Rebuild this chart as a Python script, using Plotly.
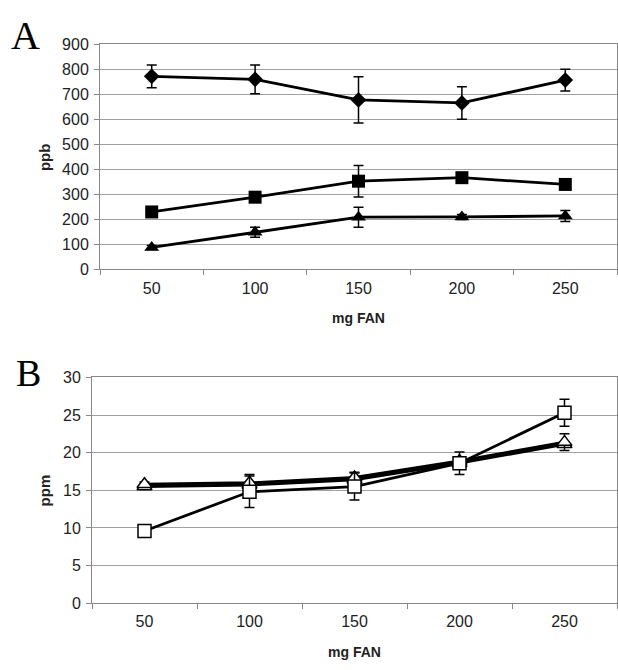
import plotly.graph_objects as go

W, H = 618, 670
categories = ["50", "100", "150", "200", "250"]

# Panel A (ppb)
a_diamond = [772, 760, 678, 666, 757]
a_diamond_err = [45, 57, 92, 65, 43]
a_square = [230, 289, 353, 367, 340]
a_square_err = [8, 10, 63, 10, 15]
a_triangle = [88, 149, 209, 210, 214]
a_triangle_err = [8, 20, 40, 10, 22]

# Panel B (ppm)
b_tri1 = [15.8, 16.0, 16.7, 18.9, 21.4]
b_tri1_err = [0.3, 1.1, 0.7, 0.3, 1.1]
b_tri2 = [15.5, 15.7, 16.4, 18.6, 21.1]
b_square = [9.6, 14.8, 15.5, 18.6, 25.3]
b_square_err = [0.3, 2.1, 1.8, 1.5, 1.8]

FONT = "Liberation Sans, Arial, sans-serif"
fig = go.Figure()

def add(x, y, err, sym, size, fill, xa, ya, lw=1.5):
    fig.add_trace(go.Scatter(
        x=x, y=y, mode="lines+markers", xaxis=xa, yaxis=ya,
        line=dict(color="black", width=2.8),
        marker=dict(symbol=sym, size=size, color=fill, line=dict(color="black", width=lw)),
        error_y=(dict(type="data", array=err, visible=True, color="black", thickness=1.5, width=5)
                 if err is not None else None),
        showlegend=False, cliponaxis=False,
    ))

add(categories, a_diamond, a_diamond_err, "diamond", 12, "black", "x", "y", 0)
add(categories, a_square, a_square_err, "square", 13, "black", "x", "y", 0)
add(categories, a_triangle, a_triangle_err, "triangle-up", 13, "black", "x", "y", 0)

add(categories, b_tri2, None, "triangle-up", 13, "white", "x2", "y2")
add(categories, b_tri1, b_tri1_err, "triangle-up", 13, "white", "x2", "y2")
add(categories, b_square, b_square_err, "square", 13, "white", "x2", "y2")

def py(px):
    return 1 - px / H

xa_common = dict(type="category", range=[-0.5, 4.5], tickson="boundaries", ticks="outside",
                 ticklen=5, tickcolor="#888", showline=True, linecolor="#888", mirror=True,
                 showgrid=False, tickfont=dict(family=FONT, size=16, color="#222"),
                 ticklabelstandoff=4, fixedrange=True)
ya_common = dict(ticks="outside", ticklen=5, tickcolor="#888", showline=True, linecolor="#888",
                 mirror=True, showgrid=True, gridcolor="#a0a0a0", gridwidth=1, zeroline=False,
                 tickfont=dict(family=FONT, size=16, color="#222"), ticklabelstandoff=2)

fig.update_layout(
    width=W, height=H, margin=dict(l=0, r=0, t=0, b=0),
    paper_bgcolor="white", plot_bgcolor="white",
    xaxis=dict(domain=[100 / W, 617 / W], anchor="y", **xa_common),
    yaxis=dict(domain=[py(268.3), py(37.3)], anchor="x", range=[0, 900], dtick=100, **ya_common),
    xaxis2=dict(domain=[92 / W, 617 / W], anchor="y2", **xa_common),
    yaxis2=dict(domain=[py(610.7), py(379)], anchor="x2", range=[0, 30], dtick=5, **ya_common),
)

ann = [
    dict(text="A", x=25 / W, y=py(28), font=dict(family="Liberation Serif, serif", size=40, color="black")),
    dict(text="B", x=28 / W, y=py(375), font=dict(family="Liberation Serif, serif", size=38, color="black")),
    dict(text="<b>mg FAN</b>", x=358.5 / W, y=py(318), font=dict(family=FONT, size=14, color="#222")),
    dict(text="<b>mg FAN</b>", x=354.5 / W, y=py(661), font=dict(family=FONT, size=14, color="#222")),
    dict(text="<b>ppb</b>", x=44 / W, y=py(153), textangle=-90, font=dict(family=FONT, size=15, color="#222")),
    dict(text="<b>ppm</b>", x=44 / W, y=py(495), textangle=-90, font=dict(family=FONT, size=15, color="#222")),
]
for a in ann:
    fig.add_annotation(xref="paper", yref="paper", showarrow=False, xanchor="center", yanchor="middle", **a)

fig.write_html("out.html")
